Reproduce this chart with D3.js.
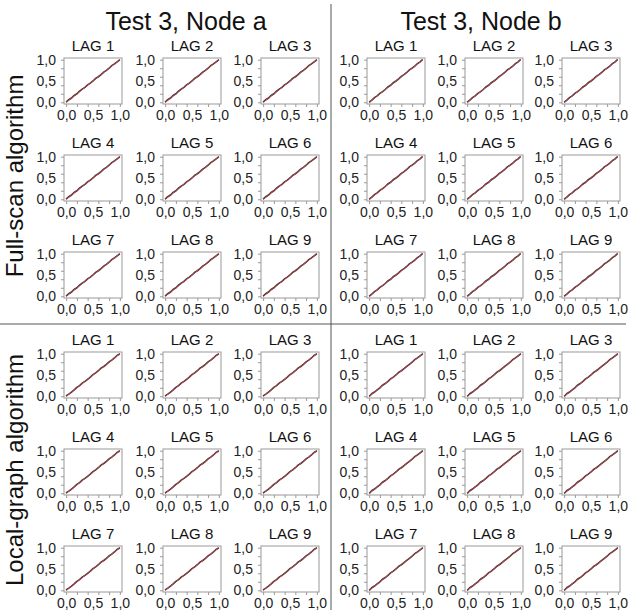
<!DOCTYPE html>
<html>
<head>
<meta charset="utf-8">
<script src="https://cdn.jsdelivr.net/npm/d3@7"></script>
<style>
  body { margin: 0; background: #fff; }
  text { font-family: "Liberation Sans", Arial, sans-serif; }
</style>
</head>
<body>
<div id="viz"></div>
<script>
const nodes = ["Test 3, Node a", "Test 3, Node b"];
const algorithms = ["Full-scan algorithm", "Local-graph algorithm"];
const lags = ["LAG 1", "LAG 2", "LAG 3", "LAG 4", "LAG 5", "LAG 6", "LAG 7", "LAG 8", "LAG 9"];
const minorTicks = [0, 0.2, 0.4, 0.6, 0.8, 1.0];
const labelTicks = [0, 0.5, 1.0];
const tickLabels = ["0,0", "0,5", "1,0"];

// theoretical quantiles (x) and observed quantiles (y) per block
const expected = [0, 0.02, 0.05, 0.1, 0.15, 0.2, 0.25, 0.3, 0.35, 0.4, 0.45, 0.5, 0.55, 0.6, 0.65, 0.7, 0.75, 0.8, 0.85, 0.9, 0.95, 0.98, 1];
const observedFullA = [0, 0.03, 0.06, 0.1, 0.16, 0.2, 0.26, 0.31, 0.35, 0.41, 0.45, 0.5, 0.56, 0.6, 0.65, 0.71, 0.75, 0.8, 0.86, 0.9, 0.95, 0.98, 1];
const observedFullB = [0, 0.02, 0.05, 0.11, 0.15, 0.21, 0.25, 0.3, 0.36, 0.4, 0.46, 0.5, 0.55, 0.61, 0.65, 0.7, 0.76, 0.8, 0.85, 0.91, 0.95, 0.99, 1];
const observedLocalA = [0, 0.03, 0.05, 0.1, 0.15, 0.21, 0.25, 0.31, 0.35, 0.4, 0.45, 0.51, 0.55, 0.6, 0.66, 0.7, 0.75, 0.81, 0.85, 0.9, 0.96, 0.98, 1];
const observedLocalB = [0, 0.02, 0.06, 0.1, 0.15, 0.2, 0.26, 0.3, 0.35, 0.41, 0.45, 0.5, 0.56, 0.6, 0.65, 0.7, 0.75, 0.8, 0.86, 0.9, 0.95, 0.98, 1];

const blocks = [
  { node: 0, alg: 0, obs: observedFullA },
  { node: 1, alg: 0, obs: observedFullB },
  { node: 0, alg: 1, obs: observedLocalA },
  { node: 1, alg: 1, obs: observedLocalB }
];

const width = 630, height = 610;
const boxW = 58, boxH = 46;
const colLeft = [[64, 163, 261], [367, 465, 562]];
const rowTop = [[58, 155, 252], [352, 449, 546]];

const svg = d3.select("#viz").append("svg")
    .attr("width", width)
    .attr("height", height);

const x = d3.scaleLinear().domain([-0.04, 1.04]).range([0, boxW]);
const y = d3.scaleLinear().domain([-0.04, 1.04]).range([boxH, 0]);

// dividers
svg.append("line")
    .attr("x1", 331).attr("x2", 331).attr("y1", 4).attr("y2", height)
    .attr("stroke", "#555").attr("stroke-width", 1);
svg.append("line")
    .attr("x1", 0).attr("x2", 626).attr("y1", 324).attr("y2", 324)
    .attr("stroke", "#555").attr("stroke-width", 1);

// column titles
svg.selectAll(".node-title")
    .data(nodes)
    .join("text")
        .attr("class", "node-title")
        .attr("x", (d, i) => i === 0 ? 186 : 481)
        .attr("y", 30)
        .attr("text-anchor", "middle")
        .style("font-size", "25px")
        .attr("fill", "#111")
        .text(d => d);

// row titles
svg.selectAll(".alg-title")
    .data(algorithms)
    .join("text")
        .attr("class", "alg-title")
        .attr("transform", (d, i) => `translate(23,${i === 0 ? 176 : 470}) rotate(-90)`)
        .attr("text-anchor", "middle")
        .style("font-size", "24px")
        .attr("fill", "#111")
        .text(d => d);

const line = d3.line()
    .x(d => x(d[0]))
    .y(d => y(d[1]));

blocks.forEach(b => {
  lags.forEach((lag, k) => {
    const r = Math.floor(k / 3), c = k % 3;
    const g = svg.append("g")
        .attr("transform", `translate(${colLeft[b.node][c]},${rowTop[b.alg][r]})`);

    g.append("text")
        .attr("x", boxW / 2)
        .attr("y", -7)
        .attr("text-anchor", "middle")
        .style("font-size", "15px")
        .attr("fill", "#111")
        .text(lag);

    g.append("rect")
        .attr("width", boxW).attr("height", boxH)
        .attr("fill", "#fff")
        .attr("stroke", "#999").attr("stroke-width", 1);

    const xMinor = g.append("g").attr("transform", `translate(0,${boxH})`)
        .call(d3.axisBottom(x).tickValues(minorTicks).tickSize(3).tickFormat(""));
    const yMinor = g.append("g")
        .call(d3.axisLeft(y).tickValues(minorTicks).tickSize(3).tickFormat(""));
    [xMinor, yMinor].forEach(a => {
      a.select(".domain").remove();
      a.selectAll(".tick line").attr("stroke", "#999");
    });

    const xLab = g.append("g").attr("transform", `translate(0,${boxH})`)
        .call(d3.axisBottom(x).tickValues(labelTicks).tickSize(0).tickPadding(6)
          .tickFormat((d, i) => tickLabels[i]));
    const yLab = g.append("g")
        .call(d3.axisLeft(y).tickValues(labelTicks).tickSize(0).tickPadding(8)
          .tickFormat((d, i) => tickLabels[i]));
    [xLab, yLab].forEach(a => {
      a.select(".domain").remove();
      a.selectAll("text")
          .style("font-size", "14px")
          .style("font-family", "Liberation Sans, Arial, sans-serif")
          .attr("fill", "#222");
    });

    const pts = expected.map((e, i) => [e, b.obs[i]]);
    g.append("path")
        .datum(pts)
        .attr("d", line)
        .attr("fill", "none")
        .attr("stroke", "#333")
        .attr("stroke-width", 1.6);
    g.append("line")
        .attr("x1", x(0)).attr("y1", y(0))
        .attr("x2", x(1)).attr("y2", y(1))
        .attr("stroke", "#d0404a")
        .attr("stroke-width", 0.9);
  });
});
</script>
</body>
</html>
